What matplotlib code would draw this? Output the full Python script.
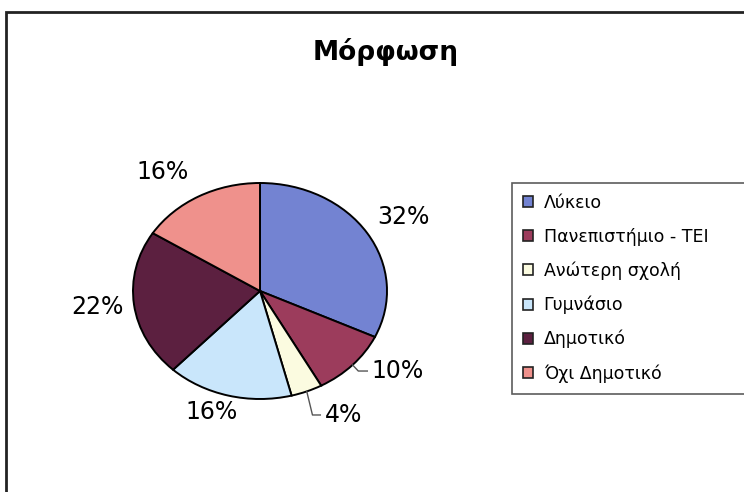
import numpy as np
import matplotlib
matplotlib.use("Agg")
import matplotlib.pyplot as plt
from matplotlib.patches import Rectangle, Patch

plt.rcParams['font.family'] = ['DejaVu Sans']

title = "Μόρφωση"
categories = ["Λύκειο", "Πανεπιστήμιο - ΤΕΙ", "Ανώτερη σχολή", "Γυμνάσιο",
              "Δημοτικό", "Όχι Δημοτικό"]
values = [32, 10, 4, 16, 22, 16]
colors = ["#7383d2", "#9c3c5c", "#fbfbe0", "#c9e6fb", "#5c2040", "#ef918c"]

# label placement (pie data coords, ellipse radius = 1) and leader flags
label_xy = [(1.126, 0.685), (0.88, -0.741), (0.51, -1.148),
            (-0.378, -1.12), (-1.283, -0.148), (-0.764, 1.102)]
leader = [False, True, True, False, False, False]

W, H = 744, 492
fig = plt.figure(figsize=(W / 100, H / 100), dpi=100)
fig.patch.set_facecolor("white")

# chart frame (runs off the right and bottom edges)
fig.add_artist(Rectangle((6 / W, -0.05), 1.2, (H - 12) / H + 0.05,
                         transform=fig.transFigure, fill=False,
                         edgecolor="#222222", linewidth=2))

fig.text(386 / W, 1 - 52 / H, title, ha="center", va="center",
         fontsize=19, fontweight="bold")

# pie axes: ellipse rx=127 px, ry=108 px centred at (260, 291)
cx, cy, rx, ry = 260, 291, 127, 108
ax = fig.add_axes([(cx - rx) / W, 1 - (cy + ry) / H, 2 * rx / W, 2 * ry / H])
wedges, _ = ax.pie(values, colors=colors, startangle=90, counterclock=False,
                   radius=1.0, wedgeprops=dict(edgecolor="black", linewidth=1.4))
ax.set_aspect("auto")
ax.set_xlim(-1, 1)
ax.set_ylim(-1, 1)
ax.axis("off")

total = sum(values)
start = 90.0
for v, (tx, ty), ld in zip(values, label_xy, leader):
    ang = np.deg2rad(start - v / total * 360 / 2)
    start -= v / total * 360
    txt = f"{round(v / total * 100)}%"
    if ld:
        ex, ey = np.cos(ang), np.sin(ang)
        ax.plot([ex, ex + 0.045, tx - 0.035], [ey, ty, ty], color="#555555",
                lw=1.0, clip_on=False, solid_joinstyle="round")
        ax.text(tx, ty, txt, ha="left", va="center", fontsize=17, clip_on=False)
    else:
        ax.text(tx, ty, txt, ha="center", va="center", fontsize=17, clip_on=False)

# legend box runs past the right edge, as in the original
handles = [Patch(facecolor=col, edgecolor="#222222", linewidth=1.2) for col in colors]
leg = fig.legend(handles, categories, loc="upper left", mode="expand",
                 bbox_to_anchor=(512 / W, 1 - 183 / H, 250 / W, 0), fontsize=12.5,
                 frameon=True, fancybox=False, handlelength=0.6, handleheight=0.6,
                 handletextpad=0.6, labelspacing=0.91, borderpad=0.62,
                 borderaxespad=0)
leg.get_frame().set_edgecolor("#333333")
leg.get_frame().set_linewidth(1.2)

fig.savefig("out.png", dpi=100, facecolor="white")
